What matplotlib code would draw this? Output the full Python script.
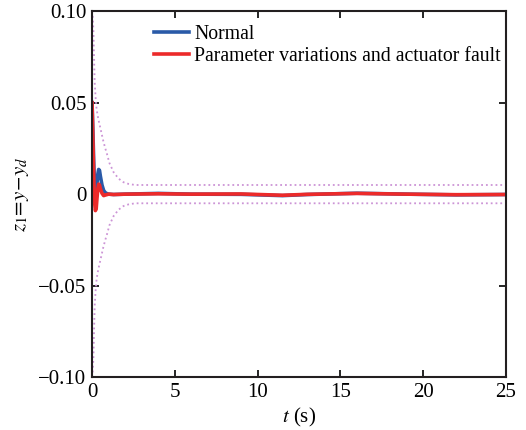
import numpy as np
import matplotlib.pyplot as plt

plt.rcParams['font.family'] = ['Liberation Serif', 'DejaVu Serif']
plt.rcParams['mathtext.fontset'] = 'stix'

# bound (prescribed performance)
t_bound = [0, 0.04, 0.08, 0.12, 0.16, 0.22, 0.28, 0.38, 0.48, 0.58, 0.68, 0.8, 0.9, 1.05, 1.3, 1.6, 1.9, 2.2, 2.6, 25]
v_bound = [0.1, 0.097, 0.09, 0.075, 0.061, 0.052, 0.046, 0.041, 0.037, 0.033, 0.029, 0.025, 0.022, 0.017, 0.012, 0.0085, 0.0065, 0.0056, 0.005, 0.005]

# normal case
t_norm = [0, 0.05, 0.1, 0.15, 0.2, 0.25, 0.3, 0.35, 0.4, 0.45, 0.5, 0.6, 0.7, 0.8, 0.9, 1.0, 1.3, 2, 4, 6, 9, 11.5, 13, 16, 19, 22, 25]
z_norm = [0.05, 0.035, 0.018, 0.005, -0.001, 0.0, 0.006, 0.011, 0.0135, 0.013, 0.01, 0.005, 0.002, 0.0008, 0.0003, 0.0, -0.0002, 0.0, 0.0004, 0.0, -0.0001, -0.0008, -0.0002, 0.0005, 0.0, -0.0004, -0.0002]

# parameter variations and actuator fault
t_fault = [0, 0.05, 0.1, 0.15, 0.2, 0.25, 0.3, 0.35, 0.4, 0.45, 0.5, 0.6, 0.7, 0.8, 1.0, 1.3, 2, 4, 6, 9, 11.5, 13, 16, 19, 22, 25]
z_fault = [0.05, 0.03, 0.01, -0.004, -0.009, -0.008, -0.002, 0.003, 0.0055, 0.005, 0.003, 0.0005, -0.0008, -0.0005, 0.0, -0.0002, 0.0, 0.0002, 0.0, 0.0001, -0.0006, -0.0001, 0.0004, 0.0, -0.0003, -0.0002]

fig = plt.figure(figsize=(5.26, 4.3), dpi=100)
ax = fig.add_axes([0.175, 0.123, 0.787, 0.851])

bound_color = (0.80, 0.58, 0.84)
ax.plot(t_bound, v_bound, ':', color=bound_color, lw=1.3)
ax.plot(t_bound, -np.array(v_bound), ':', color=bound_color, lw=1.3)
ax.plot(t_norm, z_norm, color='#2a5aa8', lw=2.6, label='Normal', solid_joinstyle='round')
ax.plot(t_fault, z_fault, color='#ec2a2a', lw=2.6, label='Parameter variations and actuator fault', solid_joinstyle='round')

ax.set_xlim(0, 25)
ax.set_ylim(-0.1, 0.1)
ax.set_xticks([0, 5, 10, 15, 20, 25])
ax.set_yticks([-0.1, -0.05, 0, 0.05, 0.1])
ax.set_yticklabels(['\u22120.10', '\u22120.05', '0', '0.05', '0.10'])
ax.tick_params(direction='in', top=True, right=True, labelsize=15, length=5, width=1.2, pad=4)
for s in ax.spines.values():
    s.set_linewidth(1.5)
    s.set_color('#231f20')

ax.set_xlabel('$t$ (s)', fontsize=15, labelpad=3)
ax.set_ylabel('$z_1\\!=\\!y\\!-\\!y_d$', fontsize=15, labelpad=5)

ax.legend(loc='upper left', bbox_to_anchor=(0.122, 0.995), frameon=False, fontsize=14.2,
          handlelength=1.78, handletextpad=0.25, labelspacing=0.15, borderaxespad=0.2)

fig.savefig('out.png', dpi=100)
